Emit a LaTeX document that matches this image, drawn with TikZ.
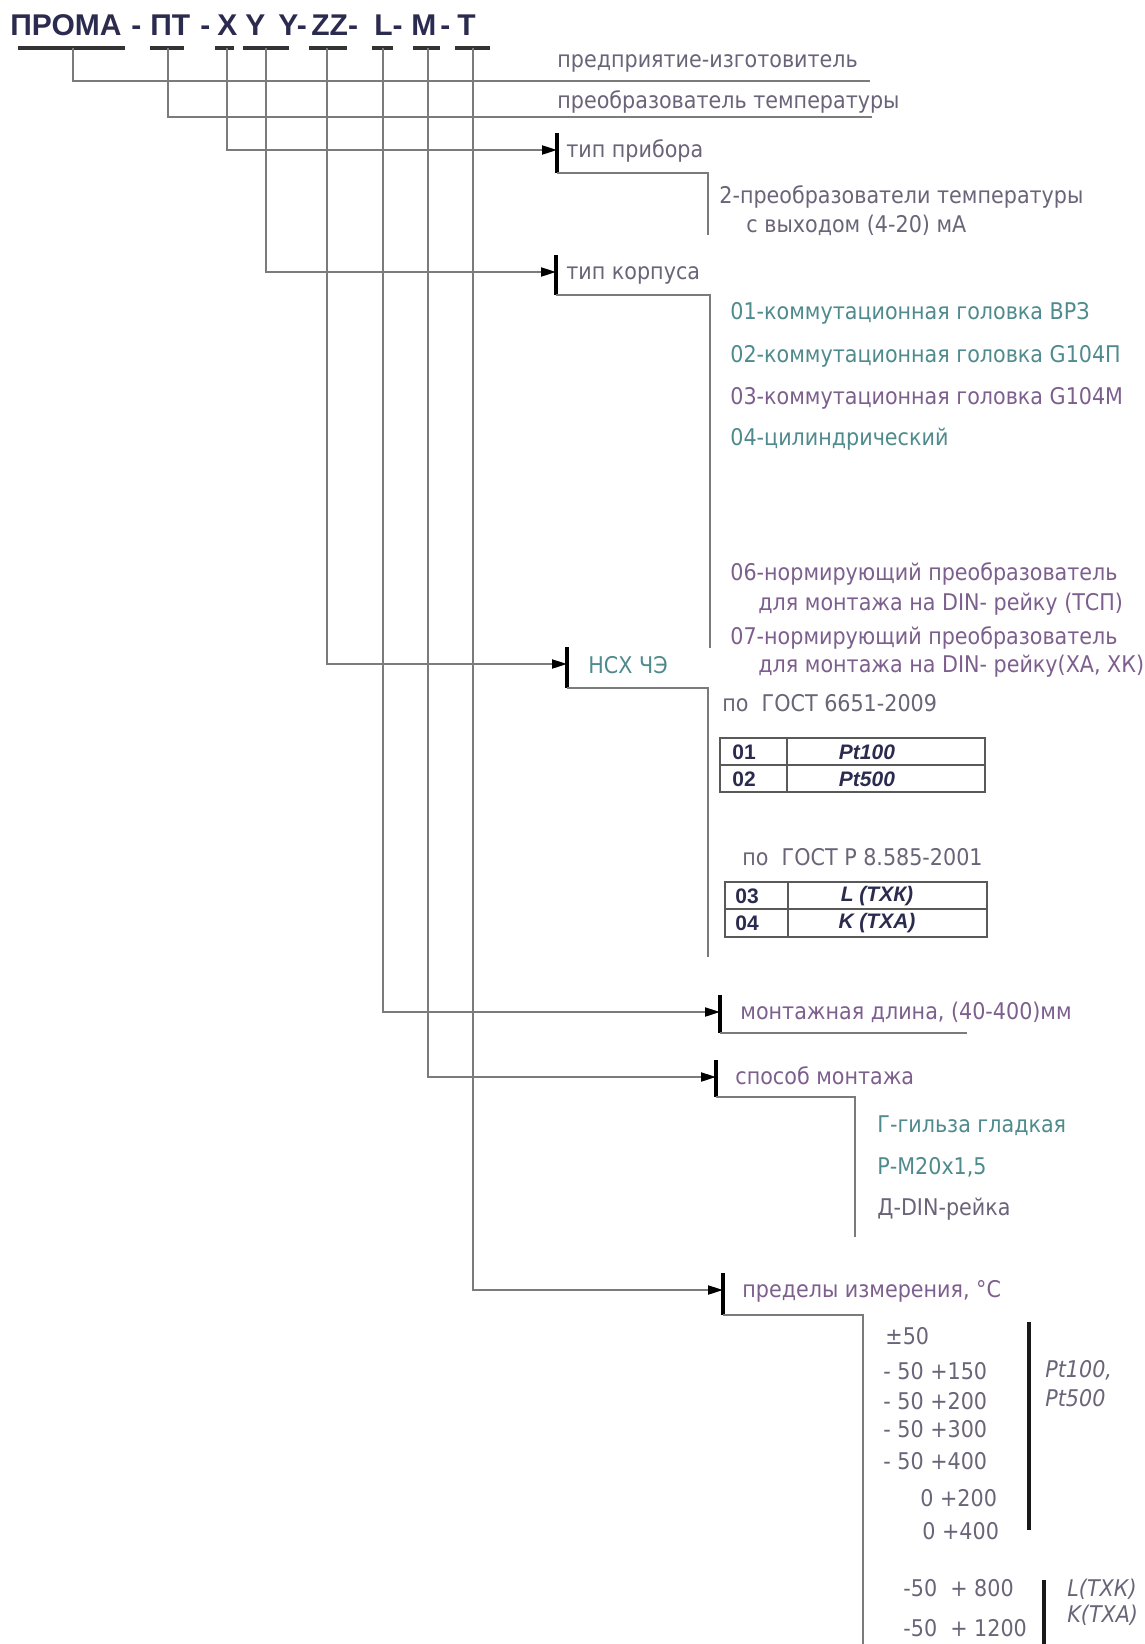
\documentclass[tikz,border=0pt]{standalone}
\usepackage{fontspec}
\setmainfont{DejaVu Sans Condensed}
\newfontfamily\codefont{Liberation Sans}
\usepackage{xcolor}
\definecolor{ink}{HTML}{6A6478}
\definecolor{inkteal}{HTML}{4F8A8C}
\definecolor{inkplum}{HTML}{7D5F8E}
\definecolor{linegray}{HTML}{7B7B7B}
\definecolor{navy}{HTML}{2B2B4F}
\usepackage{tikz}
\usetikzlibrary{arrows.meta,positioning,calc}

\begin{document}
\begin{tikzpicture}[
  x=0.5pt, y=-0.5pt,
  lbl/.style={anchor=base west, inner sep=0pt, font=\fontsize{11.5}{14}\selectfont, text=ink},
  note/.style={lbl, font=\fontsize{11.5}{14}\selectfont\itshape},
  code/.style={anchor=base west, inner sep=0pt, font=\codefont\bfseries\fontsize{15}{18}\selectfont, text=navy},
  cell/.style={inner sep=0pt, font=\codefont\bfseries\fontsize{10.5}{12}\selectfont, text=navy},
  icell/.style={cell, font=\codefont\bfseries\itshape\fontsize{10.5}{12}\selectfont},
  wire/.style={draw=linegray, line width=1pt},
  arr/.style={-{Triangle[length=7.5pt,width=4.5pt,color=black]}},
  tick/.style={draw=black, line width=1.8pt},
  codebar/.style={draw=black!80, line width=2.4pt},
  grid/.style={draw=black!65, line width=1pt},
  rangebar/.style={draw=black!90, line width=2pt}
]
\useasboundingbox (0,0) rectangle (1145,1644);

% designation line
\node[code] (cMaker) at (10,35) {ПРОМА};
\node[code] (d1) at (131,35) {-};
\node[code] (cConv) at (150,35) {ПТ};
\node[code] (d2) at (200,35) {-};
\node[code] (cX) at (217,35) {X};
\node[code] (cY1) at (245,35) {Y};
\node[code] (cY2) at (278,35) {Y-};
\node[code] (cZ) at (311,35) {ZZ-};
\node[code] (cL) at (374,35) {L-};
\node[code] (cM) at (411,35) {M};
\node[code] (d3) at (440,35) {-};
\node[code] (cT) at (457,35) {T};
\draw[codebar] (18,48) -- (125,48);
\draw[codebar] (150,48) -- (184,48);
\draw[codebar] (215,48) -- (234,48);
\draw[codebar] (243,48) -- (289,48);
\draw[codebar] (309,48) -- (347,48);
\draw[codebar] (372,48) -- (393,48);
\draw[codebar] (413,48) -- (440,48);
\draw[codebar] (455,48) -- (490,48);

% bar centres
\coordinate (b1) at (73,48);
\coordinate (b2) at (168,48);
\coordinate (b3) at (227,48);
\coordinate (b4) at (266,48);
\coordinate (b5) at (327,48);
\coordinate (b6) at (383,48);
\coordinate (b7) at (428,48);
\coordinate (b8) at (473,48);

% manufacturer, converter
\node[lbl] (maker) at (557,67) {предприятие-изготовитель};
\node[lbl] (conv) at (557,108) {преобразователь температуры};
\coordinate (e1) at (870,81);
\coordinate (e2) at (872,117);
\draw[wire] (b1) |- (e1);
\draw[wire] (b2) |- (e2);

% device type
\coordinate (t3) at (557,150);
\coordinate (u3) at (557,173);
\coordinate (v3) at (708,235);
\draw[wire,arr] (b3) |- (t3);
\draw[tick] ($(t3)+(0,-17)$) -- (u3);
\draw[wire] (u3) -| (v3);
\node[lbl] (devtype) at (566,157) {тип прибора};
\node[lbl] (dev2a) at (719,203) {2-преобразователи температуры};
\node[lbl] (dev2b) at (746,232) {с выходом (4-20) мА};

% housing
\coordinate (t4) at (556,272);
\coordinate (u4) at (556,295);
\coordinate (v4) at (710,648);
\draw[wire,arr] (b4) |- (t4);
\draw[tick] ($(t4)+(0,-17)$) -- (u4);
\draw[wire] (u4) -| (v4);
\node[lbl] (housing) at (566,279) {тип корпуса};
\node[lbl, text=inkteal] (h01) at (730,319) {01-коммутационная головка ВРЗ};
\node[lbl, text=inkteal] (h02) at (730,362) {02-коммутационная головка G104П};
\node[lbl, text=inkplum] (h03) at (730,404) {03-коммутационная головка G104М};
\node[lbl, text=inkteal] (h04) at (730,445) {04-цилиндрический};
\node[lbl, text=inkplum] (h06) at (730,580) {06-нормирующий преобразователь};
\node[lbl, text=inkplum] (h06b) at (758,610) {для монтажа на DIN- рейку (ТСП)};
\node[lbl, text=inkplum] (h07) at (730,644) {07-нормирующий преобразователь};
\node[lbl, text=inkplum] (h07b) at (758,672) {для монтажа на DIN- рейку(ХА, ХК)};

% sensing element
\coordinate (t5) at (567,664);
\coordinate (u5) at (567,688);
\coordinate (v5) at (708,957);
\draw[wire,arr] (b5) |- (t5);
\draw[tick] ($(t5)+(0,-17)$) -- (u5);
\draw[wire] (u5) -| (v5);
\node[lbl, text=inkteal] (nsx) at (588,673) {НСХ ЧЭ};
\node[lbl] (gost1) at (722,711) {по\ \ ГОСТ 6651-2009};
\draw[grid] (720,738) rectangle (985,792);
\draw[grid] (720,765) -- (985,765);
\draw[grid] (787,738) -- (787,792);
\node[cell] (s01) at (744,752) {01};
\node[icell] (sPt1) at (867,752) {Pt100};
\node[cell] (s02) at (744,779) {02};
\node[icell] (sPt5) at (867,779) {Pt500};
\node[lbl] (gost2) at (742,865) {по\ \ ГОСТ Р 8.585-2001};
\draw[grid] (725,882) rectangle (987,937);
\draw[grid] (725,909) -- (987,909);
\draw[grid] (788,882) -- (788,937);
\node[cell] (s03) at (747,896) {03};
\node[icell] (sL) at (877,896) {L (ТХК)};
\node[cell] (s04) at (747,923) {04};
\node[icell] (sK) at (877,923) {K (ТХА)};

% mounting length
\coordinate (t6) at (720,1012);
\coordinate (u6) at (720,1033);
\coordinate (v6) at (967,1033);
\draw[wire,arr] (b6) |- (t6);
\draw[tick] ($(t6)+(0,-17)$) -- (u6);
\draw[wire] (u6) -- (v6);
\node[lbl, text=inkplum] (length) at (740,1019) {монтажная длина, (40-400)мм};

% mounting method
\coordinate (t7) at (716,1077);
\coordinate (u7) at (716,1097);
\coordinate (v7) at (855,1237);
\draw[wire,arr] (b7) |- (t7);
\draw[tick] ($(t7)+(0,-17)$) -- (u7);
\draw[wire] (u7) -| (v7);
\node[lbl, text=inkplum] (mount) at (735,1084) {способ монтажа};
\node[lbl, text=inkteal] (mG) at (877,1132) {Г-гильза гладкая};
\node[lbl, text=inkteal] (mR) at (877,1174) {Р-М20х1,5};
\node[lbl] (mD) at (877,1215) {Д-DIN-рейка};

% measuring range
\coordinate (t8) at (723,1290);
\coordinate (u8) at (723,1315);
\coordinate (v8) at (863,1644);
\draw[wire,arr] (b8) |- (t8);
\draw[tick] ($(t8)+(0,-17)$) -- (u8);
\draw[wire] (u8) -| (v8);
\node[lbl, text=inkplum] (range) at (742,1297) {пределы измерения, °С};
\node[lbl] (r1) at (885,1344) {±50};
\node[lbl] (r2) at (883,1379) {- 50 +150};
\node[lbl] (r3) at (883,1409) {- 50 +200};
\node[lbl] (r4) at (883,1437) {- 50 +300};
\node[lbl] (r5) at (883,1469) {- 50 +400};
\node[lbl] (r6) at (920,1506) {0 +200};
\node[lbl] (r7) at (922,1539) {0 +400};
\draw[rangebar] (1029,1322) -- (1029,1530);
\node[note] (rPt1) at (1045,1377) {Pt100,};
\node[note] (rPt5) at (1045,1406) {Pt500};
\node[lbl] (r8) at (903,1596) {-50\ \ + 800};
\node[lbl] (r9) at (903,1636) {-50\ \ + 1200};
\draw[rangebar] (1044,1580) -- (1044,1644);
\node[note] (rL) at (1067,1596) {L(ТХК)};
\node[note] (rK) at (1067,1622) {K(ТХА)};
\end{tikzpicture}
\end{document}
